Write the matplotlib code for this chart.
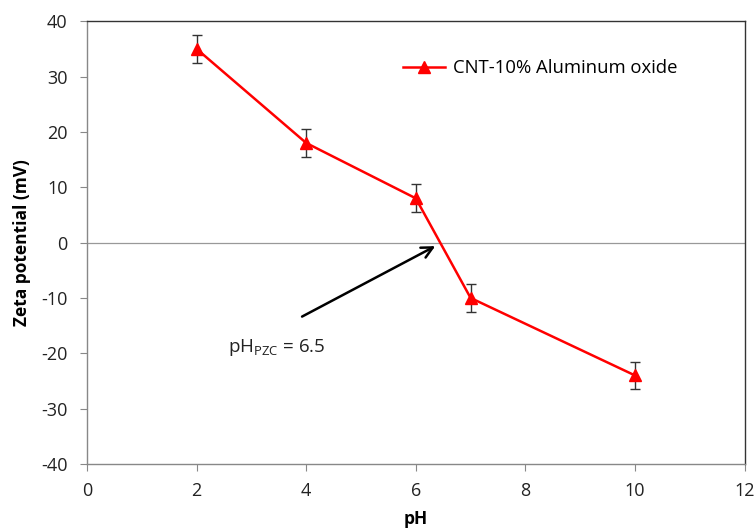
import matplotlib.pyplot as plt
from matplotlib.lines import Line2D
import numpy as np

ph = [2, 4, 6, 7, 10]
zeta = [35, 18, 8, -10, -24]
err = [2.5, 2.5, 2.5, 2.5, 2.5]
label = 'CNT-10% Aluminum oxide'

plt.rcParams['font.family'] = ['Open Sans', 'DejaVu Sans']
plt.rcParams['axes.unicode_minus'] = False

fig = plt.figure(figsize=(7.56, 5.3), dpi=100)
ax = fig.add_axes([0.115, 0.1245, 0.87, 0.8355])

ax.axhline(0, color='#999999', lw=0.9, zorder=1)
ax.errorbar(ph, zeta, yerr=err, color='red', lw=1.8, marker='^', ms=8.5,
            ecolor='#333333', elinewidth=1, capsize=3.5, capthick=1,
            zorder=3)

ax.annotate('', xy=(6.4, -0.4), xytext=(3.88, -13.6),
            arrowprops=dict(arrowstyle='->', color='black', lw=1.8,
                            mutation_scale=20))
ax.text(2.57, -18.9, r'pH$_{\mathregular{PZC}}$ = 6.5', fontsize=13.5,
        va='center', ha='left', color='#222222')

ax.set_xlim(0, 12)
ax.set_ylim(-40, 40)
ax.set_xticks(np.arange(0, 13, 2))
ax.set_yticks(np.arange(-40, 41, 10))
ax.tick_params(direction='out', length=5, color='#888888', labelsize=13,
               labelcolor='#222222')
ax.tick_params(axis='x', pad=8)
ax.tick_params(axis='y', pad=9)
for s in ax.spines.values():
    s.set_color('#888888')
    s.set_linewidth(1)
ax.spines['top'].set_color('#333333')
ax.spines['right'].set_color('#333333')

ax.set_xlabel('pH', fontsize=12.5, fontweight='bold', labelpad=7)
ax.set_ylabel('Zeta potential (mV)', fontsize=12.5, fontweight='bold', labelpad=7)

handle = Line2D([], [], color='red', lw=1.8, marker='^', ms=8.5)
ax.legend([handle], [label], loc='center left', bbox_to_anchor=(0.48, 0.894),
          frameon=False, fontsize=13.3, handlelength=2.3, handletextpad=0.4,
          borderpad=0, borderaxespad=0)

fig.savefig('out.png', dpi=100)
